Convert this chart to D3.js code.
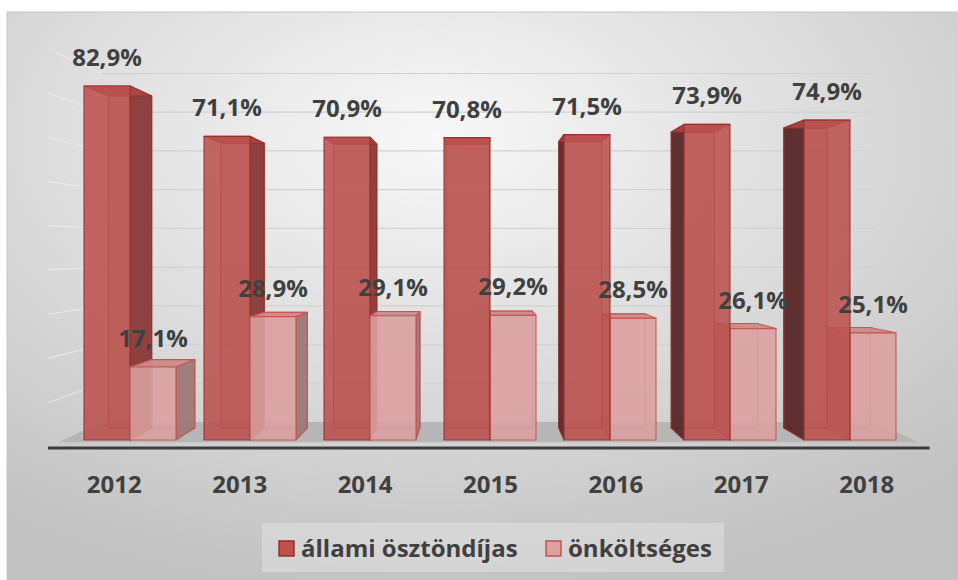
<!DOCTYPE html>
<html>
<head>
<meta charset="utf-8">
<script src="https://cdn.jsdelivr.net/npm/d3@7"></script>
<style>
  html, body { margin: 0; padding: 0; background: #fff; }
  svg { display: block; }
  text { font-family: "Open Sans", "Liberation Sans", sans-serif; font-weight: 700; fill: #404040; }
</style>
</head>
<body>
<svg id="chart" width="958" height="580"></svg>
<script>
// data
var years = ['2012', '2013', '2014', '2015', '2016', '2017', '2018'];
var allami = [82.9, 71.1, 70.9, 70.8, 71.5, 73.9, 74.9];
var onkoltseges = [17.1, 28.9, 29.1, 29.2, 28.5, 26.1, 25.1];
var seriesNames = ['állami ösztöndíjas', 'önköltséges'];
var yMax = 90;

// perspective: everything is laid out in the plane of the bar fronts,
// then pushed back towards the vanishing point (VX, VY) by a depth ratio
var W = 958, H = 580;
var VX = 479, VY = 247;
var R_FLOOR_FRONT = 1.036, R_BAR_BACK = 0.938, R_WALL = 0.907;

function proj(x, y, r) {
  return [VX + (x - VX) * r, VY + (y - VY) * r];
}

var svg = d3.select('#chart');
var defs = svg.append('defs');

var bg = defs.append('radialGradient').attr('id', 'bg')
  .attr('cx', '45%').attr('cy', '22%').attr('r', '80%');
bg.append('stop').attr('offset', '0%').attr('stop-color', '#f8f8f8');
bg.append('stop').attr('offset', '100%').attr('stop-color', '#c2c2c2');

svg.append('rect')
  .attr('x', 7).attr('y', 12).attr('width', W - 7).attr('height', H - 12)
  .attr('fill', 'url(#bg)').attr('stroke', '#c6c6c6').attr('stroke-width', 1);

var x = d3.scaleBand().domain(years).range([70, 910]).padding(0);
var xs = d3.scaleBand().domain(seriesNames).range([-46, 46]).padding(0);
var y = d3.scaleLinear().domain([0, yMax]).range([440, 440 - yMax * 4.27]);

var floorL = 63, floorR = 914;

// side wall gridlines (left)
var ticks = y.ticks(9);
svg.append('g').selectAll('line').data(ticks.filter(function(t) { return t > 0; })).enter()
  .append('line')
  .attr('x1', function(t) { return proj(floorL, y(t), R_FLOOR_FRONT)[0]; })
  .attr('y1', function(t) { return proj(floorL, y(t), R_FLOOR_FRONT)[1]; })
  .attr('x2', function(t) { return proj(floorL, y(t), R_WALL)[0]; })
  .attr('y2', function(t) { return proj(floorL, y(t), R_WALL)[1]; })
  .attr('stroke', '#ebebeb').attr('stroke-width', 1);

// back wall gridlines
svg.append('g').selectAll('line').data(ticks).enter()
  .append('line')
  .attr('x1', proj(floorL, 0, R_WALL)[0])
  .attr('x2', proj(floorR, 0, R_WALL)[0])
  .attr('y1', function(t) { return proj(0, y(t), R_WALL)[1]; })
  .attr('y2', function(t) { return proj(0, y(t), R_WALL)[1]; })
  .attr('stroke', '#d2d2d2').attr('stroke-width', 1.2);

// floor
var floorPts = [proj(floorL, y(0), R_WALL), proj(floorR, y(0), R_WALL),
                proj(floorR, y(0), 1.012), proj(floorL, y(0), 1.012)];
svg.append('polygon').attr('points', floorPts.join(' ')).attr('fill', '#b6b6b6');
svg.append('line')
  .attr('x1', proj(floorL, y(0), R_FLOOR_FRONT)[0])
  .attr('x2', proj(floorR, y(0), R_FLOOR_FRONT)[0])
  .attr('y1', proj(0, y(0), R_FLOOR_FRONT)[1] + 1)
  .attr('y2', proj(0, y(0), R_FLOOR_FRONT)[1] + 1)
  .attr('stroke', '#3c3c3c').attr('stroke-width', 3);

var styles = {
  'állami ösztöndíjas': { front: '#bb524e', top: '#a84643', rside: '#8a3a38', lside: '#5a2828', stroke: '#962f2c', legend: '#c0504d' },
  'önköltséges': { front: '#dba09f', top: '#cc8a89', rside: '#9e7878', lside: '#b88080', stroke: '#c4524f', legend: '#e0a09f' }
};

var bars = [];
years.forEach(function(yr, i) {
  bars.push({ year: yr, s: seriesNames[0], v: allami[i] });
  bars.push({ year: yr, s: seriesNames[1], v: onkoltseges[i] });
});
bars.forEach(function(b) {
  b.x0 = x(b.year) + x.bandwidth() / 2 + xs(b.s);
  b.x1 = b.x0 + xs.bandwidth();
  b.yt = y(b.v);
  b.yb = y(0);
  b.dist = Math.abs((b.x0 + b.x1) / 2 - VX);
});
bars.sort(function(a, b) { return b.dist - a.dist; });

function poly(g, pts, fill, op, st) {
  g.append('polygon').attr('points', pts.join(' '))
    .attr('fill', fill).attr('fill-opacity', op)
    .attr('stroke', st.stroke).attr('stroke-width', 1.2).attr('stroke-opacity', 0.85)
    .attr('stroke-linejoin', 'round');
}

var barG = svg.append('g');
bars.forEach(function(b) {
  var st = styles[b.s];
  var g = barG.append('g');
  var f = function(px, py, r) { return proj(px, py, r); };
  // hidden edges seen through the transparent box
  poly(g, [f(b.x0, b.yt, R_BAR_BACK), f(b.x1, b.yt, R_BAR_BACK), f(b.x1, b.yb, R_BAR_BACK), f(b.x0, b.yb, R_BAR_BACK)], st.front, 0.25, st);
  var right = [f(b.x1, b.yt, 1), f(b.x1, b.yb, 1), f(b.x1, b.yb, R_BAR_BACK), f(b.x1, b.yt, R_BAR_BACK)];
  var left = [f(b.x0, b.yt, 1), f(b.x0, b.yb, 1), f(b.x0, b.yb, R_BAR_BACK), f(b.x0, b.yt, R_BAR_BACK)];
  if (b.x1 < VX) poly(g, right, st.rside, 0.95, st);
  if (b.x0 > VX) poly(g, left, st.lside, 0.95, st);
  poly(g, [f(b.x0, b.yt, 1), f(b.x1, b.yt, 1), f(b.x1, b.yt, R_BAR_BACK), f(b.x0, b.yt, R_BAR_BACK)], st.top, 0.95, st);
  poly(g, [f(b.x0, b.yt, 1), f(b.x1, b.yt, 1), f(b.x1, b.yb, 1), f(b.x0, b.yb, 1)], st.front, 0.88, st);
});

// value labels
var loc = d3.formatLocale({ decimal: ',', thousands: ' ', grouping: [3], currency: ['', ''] });
var fmt = loc.format('.1f');
svg.append('g').selectAll('text').data(bars).enter()
  .append('text')
  .attr('x', function(b) { return (b.x0 + b.x1) / 2; })
  .attr('y', function(b) { return b.yt - 20; })
  .attr('text-anchor', 'middle')
  .attr('font-size', 24)
  .text(function(b) { return fmt(b.v) + '%'; });

// category axis labels
svg.append('g').selectAll('text').data(years).enter()
  .append('text')
  .attr('x', function(d) { return proj(x(d) + x.bandwidth() / 2, 0, 1.045)[0]; })
  .attr('y', 493)
  .attr('text-anchor', 'middle')
  .attr('font-size', 24)
  .text(function(d) { return d; });

// legend
var lg = svg.append('g');
lg.append('rect').attr('x', 262).attr('y', 523).attr('width', 462).attr('height', 49)
  .attr('fill', '#e6e6e6').attr('fill-opacity', 0.45);
var legendX = [279, 546];
seriesNames.forEach(function(s, i) {
  lg.append('rect').attr('x', legendX[i]).attr('y', 541).attr('width', 15).attr('height', 15)
    .attr('fill', styles[s].legend).attr('stroke', styles[s].stroke).attr('stroke-width', 1.5);
  lg.append('text').attr('x', legendX[i] + 22).attr('y', 557)
    .attr('font-size', 24)
    .text(s);
});
</script>
</body>
</html>
